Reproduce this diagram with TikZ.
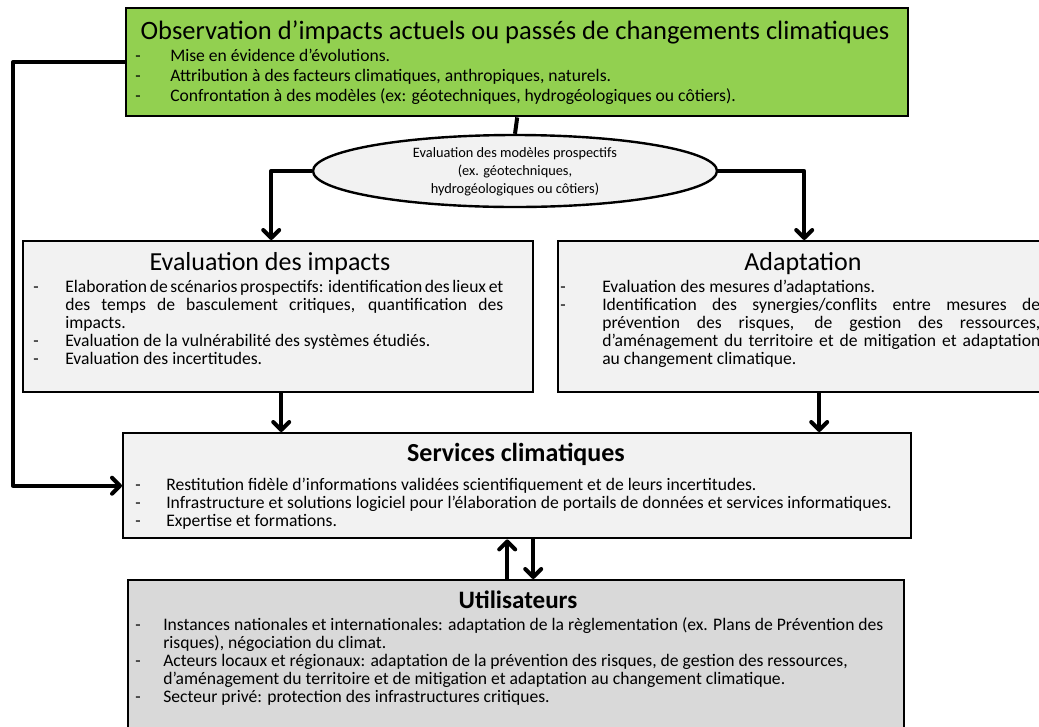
\documentclass[tikz,border=0pt]{standalone}
\usepackage{fontspec}
\setmainfont{Carlito}
\usetikzlibrary{arrows.meta,shapes.geometric,calc}
\newlength\px \setlength\px{0.75pt}
\definecolor{obsgreen}{HTML}{92D050}
\definecolor{boxgray}{HTML}{F2F2F2}
\definecolor{usrgray}{HTML}{D9D9D9}
\newcommand\bodyfont[1]{\fontsize{13.2pt}{#1}\selectfont}
\begin{document}
\begin{tikzpicture}[x=0.75pt,y=-0.75pt,
 box/.style={draw=black, line width=1.8pt, rectangle, inner sep=0pt, anchor=north west},
 conn/.style={line width=3pt, line join=round},
 arr/.style={conn, -{Straight Barb[length=6pt,width=12pt,round]}},
 lbl/.style={inner sep=0pt, anchor=base west, align=left},
 ttl/.style={inner sep=0pt, anchor=base},
]
\useasboundingbox (0,0) rectangle (1039,726);
\clip (0,0) rectangle (1039,726);
% boxes
\node[box, fill=obsgreen, minimum width=782\px, minimum height=108\px] (obs) at (125,7) {};
\node[ellipse, draw=black, line width=1.8pt, fill=boxgray, minimum width=404\px, minimum height=72\px, inner sep=0pt] (ell) at (515,171) {};
\node[box, fill=boxgray, minimum width=510\px, minimum height=151\px] (imp) at (22,240) {};
\node[box, fill=boxgray, minimum width=512\px, minimum height=151\px] (ada) at (557,240) {};
\node[box, fill=boxgray, minimum width=788\px, minimum height=105\px] (svc) at (122,432) {};
\node[box, fill=usrgray, minimum width=776\px, minimum height=170\px] (usr) at (127,579) {};
% texts
\node[ttl, font=\fontsize{19.9pt}{22pt}\selectfont] (obst) at (515,39) {Observation d’impacts actuels ou passés de changements climatiques};
\node[lbl] (obsl) at (135,61) {\bodyfont{15pt}\begin{tabular}[t]{@{}p{35\px}@{}l@{}}
- & Mise en évidence d’évolutions.\\
- & Attribution à des facteurs climatiques, anthropiques, naturels.\\
- & Confrontation à des modèles (ex: géotechniques, hydrogéologiques ou côtiers).
\end{tabular}};
\node[align=center, inner sep=0pt, font=\fontsize{10.75pt}{13.5pt}\selectfont] (ellt) at (515,172) {Evaluation des modèles prospectifs\\(ex. géotechniques,\\hydrogéologiques ou côtiers)};
\node[ttl, font=\fontsize{19.5pt}{22pt}\selectfont] (impt) at (270,270) {Evaluation des impacts};
\node[lbl] (impl) at (33,292) {\bodyfont{13.5pt}\begin{tabular}[t]{@{}p{32\px}@{}l@{}}
- & \makebox[438\px][s]{Elaboration de scénarios prospectifs: identification des lieux et}\\
 & \makebox[438\px][s]{des temps de basculement critiques, quantification des}\\
 & impacts.\\
- & Evaluation de la vulnérabilité des systèmes étudiés.\\
- & Evaluation des incertitudes.
\end{tabular}};
\node[ttl, font=\fontsize{19.5pt}{22pt}\selectfont] (adat) at (803,270) {Adaptation};
\node[lbl] (adal) at (560,292) {\bodyfont{13.5pt}\begin{tabular}[t]{@{}p{42\px}@{}l@{}}
- & Evaluation des mesures d’adaptations.\\
- & \makebox[438\px][s]{Identification des synergies/conflits entre mesures de}\\
 & \makebox[438\px][s]{prévention des risques, de gestion des ressources,}\\
 & \makebox[438\px][s]{d’aménagement du territoire et de mitigation et adaptation}\\
 & au changement climatique.
\end{tabular}};
\node[ttl, font=\bfseries\fontsize{19.5pt}{22pt}\selectfont] (svct) at (516,461) {Services climatiques};
\node[lbl] (svcl) at (135,490) {\bodyfont{13.5pt}\begin{tabular}[t]{@{}p{31\px}@{}l@{}}
- & Restitution fidèle d’informations validées scientifiquement et de leurs incertitudes.\\
- & Infrastructure et solutions logiciel pour l’élaboration de portails de données et services informatiques.\\
- & Expertise et formations.
\end{tabular}};
\node[ttl, font=\bfseries\fontsize{18.8pt}{22pt}\selectfont] (usrt) at (518,608) {Utilisateurs};
\node[lbl] (usrl) at (135,630) {\bodyfont{13.5pt}\begin{tabular}[t]{@{}p{28\px}@{}l@{}}
- & Instances nationales et internationales: adaptation de la règlementation (ex. Plans de Prévention des\\
 & risques), négociation du climat.\\
- & Acteurs locaux et régionaux: adaptation de la prévention des risques, de gestion des ressources,\\
 & d’aménagement du territoire et de mitigation et adaptation au changement climatique.\\
- & Secteur privé: protection des infrastructures critiques.
\end{tabular}};
% connectors
\draw[conn] (obs.south) -- (ell.north);
\draw[arr] (ell.west) -| ([xshift=-7\px]imp.north);
\draw[arr] (ell.east) -| ([xshift=-10\px]ada.north);
\draw[arr] ([xshift=3\px]imp.south) -- ([xshift=3\px]imp.south |- svc.north);
\draw[arr] ([xshift=5\px]ada.south) -- ([xshift=5\px]ada.south |- svc.north);
\draw[arr] (obs.west) -- ++(-112,0) |- (svc.west);
\draw[arr] ([xshift=-9\px]usr.north) -- ([xshift=-9\px]usr.north |- svc.south);
\draw[arr] ([xshift=16\px]svc.south) -- ([xshift=16\px]svc.south |- usr.north);
\end{tikzpicture}
\end{document}
